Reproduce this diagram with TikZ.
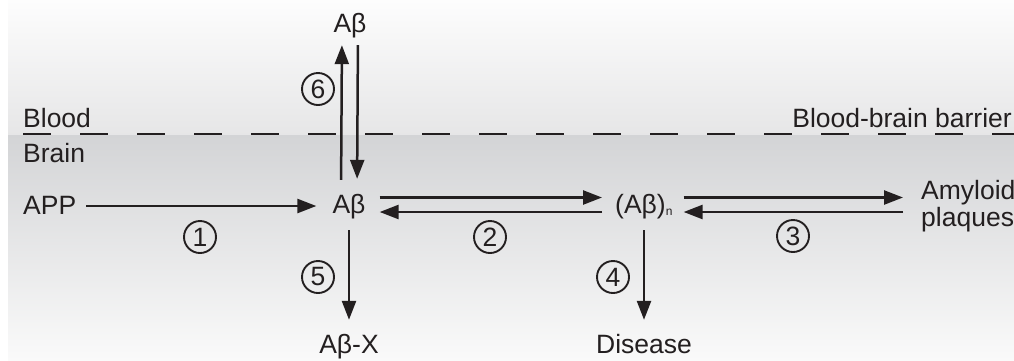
\documentclass[tikz,border=0pt]{standalone}
\usepackage{fontspec}
\setmainfont{Liberation Sans}
\usetikzlibrary{arrows.meta}

\definecolor{ink}{HTML}{231F20}
\definecolor{bloodtop}{HTML}{FDFDFD}
\definecolor{bloodbot}{HTML}{E6E6E7}
\definecolor{braintop}{HTML}{D3D4D6}
\definecolor{brainbot}{HTML}{FAFAFA}

\tikzset{
  lbl/.style={inner sep=0pt, text height=16pt, text depth=0pt, text=ink},
  tag/.style={inner sep=0pt, text=ink},
  stepnum/.style={circle, draw=ink, line width=1.9pt, minimum size=32pt,
    inner sep=0pt, text=ink},
}

\begin{document}
\begin{tikzpicture}[x=1pt, y=-1pt, font=\fontsize{26.5pt}{27pt}\selectfont]
      \useasboundingbox (0,0) rectangle (1014,360);
      % blood side and brain side
      \shade[top color=bloodtop, bottom color=bloodbot] (8,0) rectangle (1014,135);
      \shade[top color=braintop, bottom color=brainbot] (8,135) rectangle (1014,360);
      \draw[ink, line width=2.6pt, dash pattern=on 28pt off 29pt] (23,134) -- (1014,134);
      \draw
        (23,127) node[tag, anchor=base west] (blood){Blood}
        (23,162) node[tag, anchor=base west] (brain){Brain}
        (1012,127) node[tag, anchor=base east] (bbb){Blood-brain barrier};
      \draw
        (23,206) node[lbl, anchor=west] (app){APP}
        (349,205) node[lbl] (abm){Aβ}
        (350,24) node[lbl] (abt){Aβ}
        (615,205) node[lbl, anchor=west] (abn){(Aβ)\raisebox{-2pt}{\fontsize{12pt}{12pt}\selectfont n}}
        (921,206) node[tag, anchor=west, align=left] (plq){Amyloid\\plaques}
        (349,345) node[lbl] (abx){Aβ-X}
        (644,345) node[lbl] (dis){Disease};
      \draw
        (200,237) node[stepnum] (s1){1}
        (490,237) node[stepnum] (s2){2}
        (793,236) node[stepnum] (s3){3}
        (613,277) node[stepnum] (s4){4}
        (318,277) node[stepnum] (s5){5}
        (318,89) node[stepnum] (s6){6};
      \begin{scope}[ink, line width=2.5pt, -{Triangle[length=19pt,width=14pt]}]
        \draw[shorten <=10pt, shorten >=16pt] (app.east) to (app.east -| abm.west);
        \draw[shorten <=14pt, shorten >=13pt] ([yshift=7.5pt]abm.east) to ([yshift=7.5pt]abn.west);
        \draw[shorten <=13pt, shorten >=14pt] ([yshift=-7pt]abn.west) to ([yshift=-7pt]abm.east);
        \draw[shorten <=11pt, shorten >=18pt] ([yshift=7.5pt]abn.east) to ([yshift=7.5pt]abn.east -| plq.west);
        \draw[shorten <=18pt, shorten >=11pt] ([yshift=-7pt]abn.east -| plq.west) to ([yshift=-7pt]abn.east);
        \draw[shorten <=17pt, shorten >=17pt] (abm.south) to (abx.north);
        \draw[shorten <=17pt, shorten >=17pt] (dis.north |- abn.south) to (dis.north);
        \draw[shorten <=17pt, shorten >=13pt] ([xshift=-8pt]abm.north) to ([xshift=-8pt]abt.south);
        \draw[shorten <=13pt, shorten >=18pt] ([xshift=8pt]abt.south) to ([xshift=8pt]abm.north);
      \end{scope}
    \end{tikzpicture}
\end{document}
